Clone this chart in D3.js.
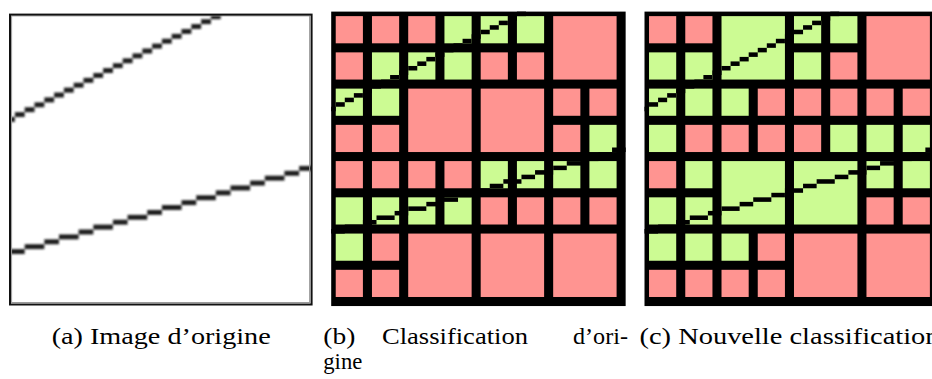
<!DOCTYPE html>
<html>
<head>
<meta charset="utf-8">
<script src="https://cdn.jsdelivr.net/npm/d3@7"></script>
<style>
  html, body { margin: 0; padding: 0; background: #fff; }
  svg { display: block; }
  text { font-family: "Liberation Serif", "DejaVu Serif", serif; fill: #000; }
</style>
</head>
<body>
<svg id="fig" width="932" height="379"></svg>
<script>
// Pixel runs of the two rasterised lines: [row, firstColumn, lastColumn]
const upperLineRuns = [
  [21, 0, 0], [20, 1, 2], [19, 3, 4], [18, 5, 6], [17, 7, 8], [16, 9, 10],
  [15, 11, 12], [14, 13, 14], [13, 15, 16], [12, 17, 18], [11, 19, 20],
  [10, 21, 22], [9, 23, 24], [8, 25, 26], [7, 27, 28], [6, 29, 30],
  [5, 31, 32], [4, 33, 34], [3, 35, 36], [2, 37, 38], [1, 39, 40], [0, 41, 42]
];
const lowerLineRuns = [
  [48, 0, 2], [47, 3, 6], [46, 7, 9], [45, 10, 13], [44, 14, 16], [43, 17, 20],
  [42, 21, 23], [41, 24, 27], [40, 28, 30], [39, 31, 34], [38, 35, 37],
  [37, 38, 41], [36, 42, 44], [35, 45, 48], [34, 49, 51], [33, 52, 55],
  [32, 56, 58], [31, 59, 61], [30, 62, 64]
];

// Quadtree leaves: [column, row, span (blocks of 8 px), class]
// class "N" = rejected block, "Y" = accepted block
const originalCells = [
  [0,0,1,"N"],[1,0,1,"N"],[2,0,1,"N"],[3,0,1,"Y"],[4,0,1,"Y"],[5,0,1,"Y"],[6,0,2,"N"],
  [0,1,1,"N"],[1,1,1,"Y"],[2,1,1,"Y"],[3,1,1,"Y"],[4,1,1,"N"],[5,1,1,"N"],
  [0,2,1,"Y"],[1,2,1,"Y"],[2,2,2,"N"],[4,2,2,"N"],[6,2,1,"N"],[7,2,1,"N"],
  [0,3,1,"N"],[1,3,1,"N"],[6,3,1,"N"],[7,3,1,"Y"],
  [0,4,1,"N"],[1,4,1,"N"],[2,4,1,"N"],[3,4,1,"N"],[4,4,1,"Y"],[5,4,1,"Y"],[6,4,1,"Y"],[7,4,1,"Y"],
  [0,5,1,"Y"],[1,5,1,"Y"],[2,5,1,"Y"],[3,5,1,"Y"],[4,5,1,"N"],[5,5,1,"N"],[6,5,1,"N"],[7,5,1,"N"],
  [0,6,1,"Y"],[1,6,1,"N"],[2,6,2,"N"],[4,6,2,"N"],[6,6,2,"N"],
  [0,7,1,"N"],[1,7,1,"N"]
];
const newCells = [
  [0,0,1,"N"],[1,0,1,"N"],[2,0,2,"Y"],[4,0,1,"Y"],[5,0,1,"Y"],[6,0,2,"N"],
  [0,1,1,"Y"],[1,1,1,"Y"],[4,1,1,"Y"],[5,1,1,"N"],
  [0,2,1,"Y"],[1,2,1,"Y"],[2,2,1,"Y"],[3,2,1,"N"],[4,2,1,"N"],[5,2,1,"N"],[6,2,1,"N"],[7,2,1,"N"],
  [0,3,1,"Y"],[1,3,1,"N"],[2,3,1,"N"],[3,3,1,"N"],[4,3,1,"N"],[5,3,1,"Y"],[6,3,1,"Y"],[7,3,1,"Y"],
  [0,4,1,"N"],[1,4,1,"Y"],[2,4,2,"Y"],[4,4,2,"Y"],[6,4,1,"Y"],[7,4,1,"Y"],
  [0,5,1,"Y"],[1,5,1,"Y"],[6,5,1,"N"],[7,5,1,"N"],
  [0,6,1,"Y"],[1,6,1,"Y"],[2,6,1,"Y"],[3,6,1,"N"],[4,6,2,"N"],[6,6,2,"N"],
  [0,7,1,"N"],[1,7,1,"N"],[2,7,1,"N"],[3,7,1,"N"]
];

const classNames = ["N", "Y"];
const classColors = ["#ff9491", "#ccfb93"];

const captionA = ["(a) Image d’origine"];
const captionB = ["(b)", "Classification", "d’ori-", "gine"];
const captionC = ["(c) Nouvelle classification"];

const svg = d3.select("#fig");
svg.append("rect").attr("width", 932).attr("height", 379).attr("fill", "#fff");

const defs = svg.append("defs");
defs.append("filter").attr("id", "soft")
  .attr("x", "-5%").attr("y", "-5%").attr("width", "110%").attr("height", "110%")
  .append("feGaussianBlur").attr("stdDeviation", 1.0);

const allRuns = upperLineRuns.map(r => ({ r, k: "u" }))
  .concat(lowerLineRuns.map(r => ({ r, k: "l" })));

const fill = d3.scaleOrdinal().domain(classNames).range(classColors);

// ---- Panel (a): the source image, softly upscaled ----
(function () {
  const x = d3.scaleLinear().domain([0, 61.4]).range([10, 310.9]);
  const y = d3.scaleLinear().domain([0, 59.1]).range([14.3, 303.4]);
  const clipId = "clipA";
  defs.append("clipPath").attr("id", clipId)
    .append("rect").attr("x", 10).attr("y", 14.3).attr("width", 300.9).attr("height", 289.1);

  const g = svg.append("g");
  g.append("rect").attr("x", 10).attr("y", 14.3).attr("width", 300.9).attr("height", 289.1)
    .attr("fill", "#fff");
  g.append("g").attr("clip-path", `url(#${clipId})`)
    .append("g").attr("filter", "url(#soft)")
    .selectAll("rect").data(allRuns).join("rect")
    .attr("x", d => x(d.r[1]))
    .attr("y", d => y(d.r[0]))
    .attr("width", d => x(d.r[2] + 1) - x(d.r[1]))
    .attr("height", d => y(d.r[0] + 1) - y(d.r[0]))
    .attr("fill", "#1a1a1a");

  // frame with its soft inner edge
  g.append("rect").attr("x", 11.6).attr("y", 15.9).attr("width", 298.0).attr("height", 286.6)
    .attr("fill", "none").attr("stroke", "#9a9a9a").attr("stroke-width", 1);
  g.append("rect").attr("x", 10).attr("y", 14.6).attr("width", 301.6).attr("height", 289.9)
    .attr("fill", "none").attr("stroke", "#111").attr("stroke-width", 2);
})();

// ---- Panels (b) and (c): quadtree classification over the 65 x 65 image ----
function drawQuadtree(x0, y0, cells) {
  const px = 4.53;
  const x = d3.scaleLinear().domain([0, 65]).range([x0, x0 + 65 * px]);
  const y = d3.scaleLinear().domain([0, 65]).range([y0, y0 + 65 * px]);
  const g = svg.append("g");
  g.append("rect").attr("x", x(0)).attr("y", y(0))
    .attr("width", x(65) - x(0)).attr("height", y(65) - y(0)).attr("fill", "#000");

  g.append("g").selectAll("rect").data(cells).join("rect")
    .attr("x", d => x(d[0] * 8 + 1))
    .attr("y", d => y(d[1] * 8 + 1))
    .attr("width", d => x(d[0] * 8 + d[2] * 8 - 1) - x(d[0] * 8 + 1))
    .attr("height", d => y(d[1] * 8 + d[2] * 8 - 1) - y(d[1] * 8 + 1))
    .attr("fill", d => fill(d[3]));

  g.append("g").selectAll("rect").data(allRuns).join("rect")
    .attr("x", d => x(d.r[1]))
    .attr("y", d => y(d.r[0]))
    .attr("width", d => x(d.r[2] + 1) - x(d.r[1]))
    .attr("height", d => y(d.r[0] + 1) - y(d.r[0]))
    .attr("fill", "#000");
}
drawQuadtree(331.2, 11.6, originalCells);
drawQuadtree(644.5, 11.6, newCells);

// ---- Sub-captions ----
const cap = svg.append("g").attr("font-size", 24);
function word(txt, x, yb, w) {
  cap.append("text").attr("x", x).attr("y", yb)
    .attr("textLength", w).attr("lengthAdjust", "spacingAndGlyphs").text(txt);
}
word(captionA[0], 51.7, 343.8, 219);
word(captionB[0], 323.3, 343.8, 32);
word(captionB[1], 382, 343.8, 146);
word(captionB[2], 573, 343.8, 55);
word(captionB[3], 323.3, 368.5, 39);
word(captionC[0], 639.5, 343.8, 300);
</script>
</body>
</html>
